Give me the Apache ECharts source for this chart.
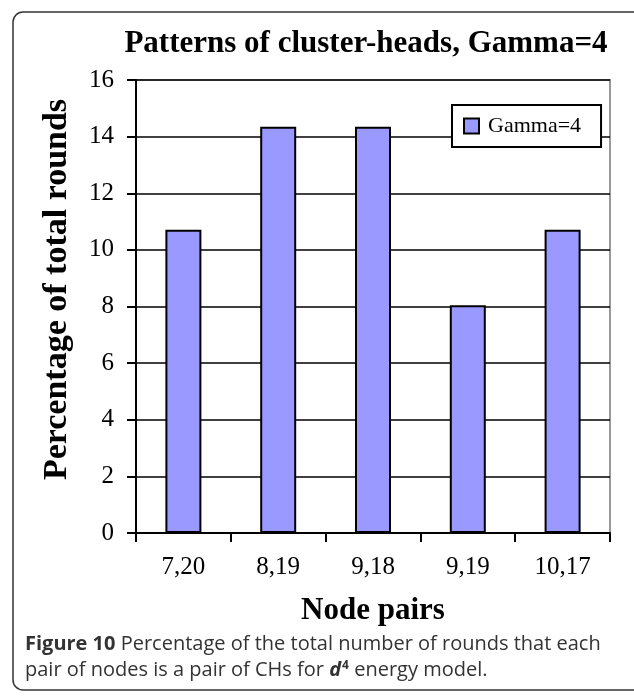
<!DOCTYPE html>
<html>
<head>
<meta charset="utf-8">
<script src="https://cdn.jsdelivr.net/npm/echarts@6/dist/echarts.min.js"></script>
<style>
	html, body { margin: 0; padding: 0; background: #fff; }
	#chart { width: 634px; height: 696px; }
</style>
</head>
<body>
<div id="chart"></div>
<script>
// chart data
var nodePairs = ['7,20', '8,19', '9,18', '9,19', '10,17']
var gammaValues = [10.71, 14.35, 14.35, 8.04, 10.71]
var yTicks = [0, 2, 4, 6, 8, 10, 12, 14, 16]

var serif = '"Liberation Serif", "Times New Roman", serif'
var sans = '"Open Sans", Lato, sans-serif'

var chart = echarts.init(document.getElementById('chart'))

var option = {
	backgroundColor: '#fff',
	animation: false,
	title: {
		text: 'Patterns of cluster-heads, Gamma=4',
		left: 361,
		top: 23,
		textAlign: 'center',
		textStyle: {
			fontFamily: serif,
			fontWeight: 'bold',
			fontSize: 31,
			color: '#000',
		},
	},
	legend: {
		data: ['Gamma=4'],
		left: 452,
		top: 105,
		padding: [10, 20, 10, 11],
		backgroundColor: '#fff',
		borderColor: '#000',
		borderWidth: 2,
		itemWidth: 15,
		itemHeight: 15,
		icon: 'rect',
		textStyle: {
			fontFamily: serif,
			fontSize: 22,
			color: '#000',
			padding: [0, 0, 0, 4],
		},
	},
	grid: {
		left: 136,
		right: 24,
		top: 80,
		bottom: 163,
		show: true,
		borderColor: '#999',
		borderWidth: 2,
	},
	xAxis: {
		type: 'category',
		data: nodePairs,
		name: 'Node pairs',
		nameLocation: 'middle',
		nameGap: 62,
		nameTextStyle: {
			fontFamily: serif,
			fontWeight: 'bold',
			fontSize: 31,
			color: '#000',
		},
		axisLine: { lineStyle: { color: '#000', width: 2 } },
		axisTick: { show: true, length: 9, lineStyle: { color: '#000', width: 2 } },
		axisLabel: {
			margin: 22,
			fontFamily: serif,
			fontSize: 25,
			color: '#000',
		},
	},
	yAxis: {
		type: 'value',
		min: yTicks[0],
		max: yTicks[yTicks.length - 1],
		interval: 2,
		name: 'Percentage of total rounds',
		nameLocation: 'middle',
		nameGap: 62,
		nameTextStyle: {
			fontFamily: serif,
			fontWeight: 'bold',
			fontSize: 34,
			color: '#000',
			padding: [0, 0, 0, 34],
		},
		axisLine: { show: true, lineStyle: { color: '#000', width: 2 } },
		axisTick: { show: true, length: 9, lineStyle: { color: '#000', width: 2 } },
		axisLabel: {
			margin: 22,
			fontFamily: serif,
			fontSize: 25,
			color: '#000',
		},
		splitLine: { show: true, lineStyle: { color: '#000', width: 1.5 } },
	},
	series: [
		{
			name: 'Gamma=4',
			type: 'bar',
			data: gammaValues,
			barWidth: 36,
			itemStyle: {
				color: '#9999ff',
				borderColor: '#000',
				borderWidth: 2,
			},
		},
	],
	graphic: [
		{
			type: 'rect',
			shape: { x: 13, y: 12, width: 640, height: 678, r: 10 },
			style: { fill: 'none', stroke: '#333', lineWidth: 1.5 },
			silent: true,
			z: -1,
		},
		{
			type: 'text',
			left: 25,
			top: 634,
			style: {
				text: '{b|Figure 10} Percentage of the total number of rounds that each',
				fontFamily: sans,
				fontSize: 20,
				fill: '#333',
				rich: {
					b: { fontFamily: sans, fontSize: 20, fontWeight: 'bold', color: '#333' },
				},
			},
		},
		{
			type: 'text',
			left: 25,
			top: 660,
			style: {
				text: 'pair of nodes is a pair of CHs for {i|d}{s|4} energy model.',
				fontFamily: sans,
				fontSize: 20,
				fill: '#333',
				rich: {
					i: { fontFamily: sans, fontSize: 20, fontStyle: 'italic', fontWeight: 'bold', color: '#333' },
					s: { fontFamily: sans, fontSize: 12, fontWeight: 'bold', color: '#333', verticalAlign: 'top', padding: [0, 0, 0, 1] },
				},
			},
		},
	],
}

chart.setOption(option)
</script>
</body>
</html>
